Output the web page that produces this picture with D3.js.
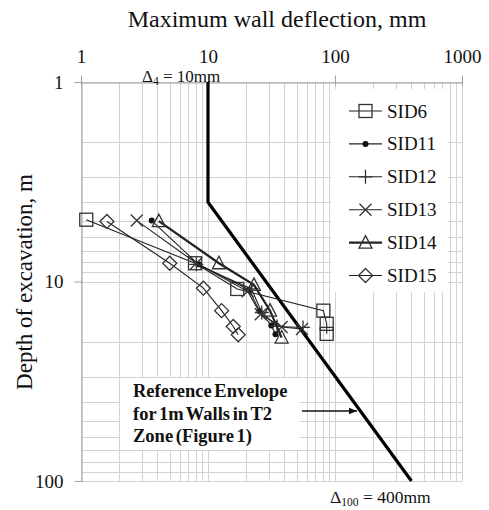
<!DOCTYPE html>
<html>
<head>
<meta charset="utf-8">
<script src="https://cdn.jsdelivr.net/npm/d3@7/dist/d3.min.js"></script>
<style>
  html, body { margin: 0; padding: 0; background: #fff; }
  svg { display: block; }
  text { font-family: "Liberation Serif", "Times New Roman", serif; fill: #111; }
</style>
</head>
<body>
<svg id="chart" width="489" height="510" font-family="Liberation Serif, Times New Roman, serif"></svg>
<script>
// Maximum wall deflection (mm) vs. depth of excavation (m), per site
const sid6  = [[1.1, 4.9], [7.9, 8.1], [17, 10.9], [81, 14.0], [86, 16.3], [86, 18.3]];
const sid11 = [[3.6, 4.95], [8.4, 8.2], [21, 11.0], [25.5, 14.1], [31.5, 16.6], [34, 18.4]];
const sid12 = [[8.1, 8.2], [22, 10.9], [26.5, 14.3], [35, 16.8], [56, 17.0]];
const sid13 = [[2.75, 4.95], [8.1, 8.1], [20.5, 11.2], [26, 14.6], [38, 16.9], [55, 17.3]];
const sid14 = [[4.1, 4.98], [12.2, 8.1], [23, 10.4], [30.8, 14.0], [38, 19.1]];
const sid15 = [[1.6, 5.0], [5.0, 8.1], [9.2, 10.8], [12.8, 14.0], [15.8, 16.8], [17.3, 18.5]];

const seriesNames = ["SID6", "SID11", "SID12", "SID13", "SID14", "SID15"];
const seriesData  = [sid6, sid11, sid12, sid13, sid14, sid15];
const seriesMarks = ["square", "dot", "plus", "cross", "triangle", "diamond"];

// Reference envelope for 1 m walls in T2 zone
const envelope = [[10, 1], [10, 4], [400, 100]];

const xTicks = [1, 10, 100, 1000];
const yTicks = [1, 10, 100];

const FONT = "Liberation Serif, Times New Roman, serif";
const svg = d3.select("#chart");
const x = d3.scaleLog().domain([1, 1000]).range([81, 462]);
const y = d3.scaleLog().domain([1, 100]).range([82, 481]);

const gridVals = (lo, hi) => {
  const out = [];
  for (let d = lo; d < hi; d *= 10) for (let k = 1; k <= 9; k++) out.push(d * k);
  out.push(hi);
  return out;
};

// grid
const grid = svg.append("g").attr("stroke", "#d2d2d2").attr("stroke-width", 1);
gridVals(1, 1000).forEach(v => {
  grid.append("line").attr("x1", Math.round(x(v)) + 0.5).attr("x2", Math.round(x(v)) + 0.5)
    .attr("y1", y(1)).attr("y2", y(100));
});
gridVals(1, 100).forEach(v => {
  grid.append("line").attr("y1", Math.round(y(v)) + 0.5).attr("y2", Math.round(y(v)) + 0.5)
    .attr("x1", x(1)).attr("x2", x(1000));
});

// axes
const xAxis = d3.axisTop(x).tickValues(xTicks).tickFormat(d3.format("d")).tickSizeInner(7).tickSizeOuter(0).tickPadding(13);
const yAxis = d3.axisLeft(y).tickValues(yTicks).tickFormat(d3.format("d")).tickSizeInner(7).tickSizeOuter(0).tickPadding(11);

const gx = svg.append("g").attr("transform", `translate(0,${Math.round(y(1)) + 0.5})`).call(xAxis);
const gy = svg.append("g").attr("transform", `translate(${Math.round(x(1)) + 0.5},0)`).call(yAxis);
[gx, gy].forEach(g => {
  g.attr("font-family", FONT).attr("font-size", 19);
  g.select(".domain").attr("stroke", "#a0a0a0");
  g.selectAll(".tick line").attr("stroke", "#a0a0a0");
  g.selectAll(".tick text").attr("font-family", FONT).attr("font-size", 19).attr("fill", "#111");
});
gx.selectAll(".tick line").attr("y1", 3);
gy.selectAll(".tick line").attr("x1", 1);

// axis titles
svg.append("text").attr("x", 277).attr("y", 27).attr("text-anchor", "middle")
  .attr("font-family", FONT).attr("font-size", 24).text("Maximum wall deflection, mm");
svg.append("text").attr("transform", "translate(32,282) rotate(-90)").attr("text-anchor", "middle")
  .attr("font-family", FONT).attr("font-size", 23).text("Depth of excavation, m");

// annotation box behind text
svg.append("rect").attr("x", 120).attr("y", 378).attr("width", 180).attr("height", 72).attr("fill", "#fff");
svg.append("g").attr("font-weight", "bold").attr("font-size", 18.5).attr("font-family", FONT)
  .attr("word-spacing", -2)
  .selectAll("text").data(["Reference Envelope", "for 1m Walls in T2", "Zone (Figure 1)"])
  .join("text").attr("x", 133).attr("y", (d, i) => 397 + i * 22.5).text(d => d);

// arrow
svg.append("defs").append("marker").attr("id", "arrow").attr("viewBox", "0 0 10 10")
  .attr("refX", 10).attr("refY", 5).attr("markerWidth", 8).attr("markerHeight", 8)
  .attr("markerUnits", "userSpaceOnUse").attr("orient", "auto")
  .append("path").attr("d", "M0,1 L10,5 L0,9 Z").attr("fill", "#111");
svg.append("line").attr("x1", 302).attr("x2", 357).attr("y1", 411).attr("y2", 411)
  .attr("stroke", "#111").attr("stroke-width", 1.5).attr("marker-end", "url(#arrow)");

// legend background
svg.append("rect").attr("x", 331).attr("y", 89).attr("width", 117).attr("height", 203).attr("fill", "#fff");

// envelope line
const line = d3.line().x(d => x(d[0])).y(d => y(d[1]));
svg.append("path").datum(envelope).attr("d", line).attr("fill", "none")
  .attr("stroke", "#000").attr("stroke-width", 3.2);

// envelope labels
const lab4 = svg.append("text").attr("x", 142).attr("y", 82).attr("font-size", 17).attr("font-family", FONT);
lab4.append("tspan").text("\u0394");
lab4.append("tspan").attr("font-size", 11.5).attr("dy", 2.5).text("4");
lab4.append("tspan").attr("dy", -2.5).text(" = 10mm");
const lab100 = svg.append("text").attr("x", 330).attr("y", 503).attr("font-size", 17.5).attr("font-family", FONT);
lab100.append("tspan").text("\u0394");
lab100.append("tspan").attr("font-size", 11.5).attr("dy", 2.5).text("100");
lab100.append("tspan").attr("dy", -2.5).text(" = 400mm");

// marker shapes
function drawMarker(g, type, cx, cy) {
  const c = "#333";
  if (type === "square") {
    g.append("rect").attr("x", cx - 6.5).attr("y", cy - 6.5).attr("width", 13).attr("height", 13)
      .attr("fill", "none").attr("stroke", c).attr("stroke-width", 1.3);
  } else if (type === "dot") {
    g.append("circle").attr("cx", cx).attr("cy", cy).attr("r", 3).attr("fill", "#111");
  } else if (type === "plus") {
    g.append("path").attr("d", `M${cx - 7},${cy}H${cx + 7}M${cx},${cy - 7}V${cy + 7}`)
      .attr("stroke", c).attr("stroke-width", 1.3).attr("fill", "none");
  } else if (type === "cross") {
    g.append("path").attr("d", `M${cx - 6},${cy - 6}L${cx + 6},${cy + 6}M${cx - 6},${cy + 6}L${cx + 6},${cy - 6}`)
      .attr("stroke", c).attr("stroke-width", 1.3).attr("fill", "none");
  } else if (type === "triangle") {
    g.append("path").attr("d", `M${cx},${cy - 7}L${cx + 6.5},${cy + 5.5}L${cx - 6.5},${cy + 5.5}Z`)
      .attr("stroke", c).attr("stroke-width", 1.3).attr("fill", "none");
  } else if (type === "diamond") {
    g.append("path").attr("d", `M${cx},${cy - 7}L${cx + 7},${cy}L${cx},${cy + 7}L${cx - 7},${cy}Z`)
      .attr("stroke", c).attr("stroke-width", 1.3).attr("fill", "none");
  }
}

// series
seriesData.forEach((data, i) => {
  const g = svg.append("g");
  g.append("path").datum(data).attr("d", line).attr("fill", "none")
    .attr("stroke", "#222").attr("stroke-width", seriesNames[i] === "SID14" ? 2.2 : 1.1);
  data.forEach(d => drawMarker(g, seriesMarks[i], x(d[0]), y(d[1])));
});

// legend
const leg = svg.append("g");
seriesNames.forEach((name, i) => {
  const ly = 111 + i * 32.9;
  leg.append("line").attr("x1", 349).attr("x2", 382).attr("y1", ly).attr("y2", ly)
    .attr("stroke", "#222").attr("stroke-width", name === "SID14" ? 2.2 : 1.1);
  drawMarker(leg, seriesMarks[i], 365.5, ly);
  leg.append("text").attr("x", 387).attr("y", ly + 6.5).attr("font-size", 19)
    .attr("font-family", FONT).text(name);
});
</script>
</body>
</html>
